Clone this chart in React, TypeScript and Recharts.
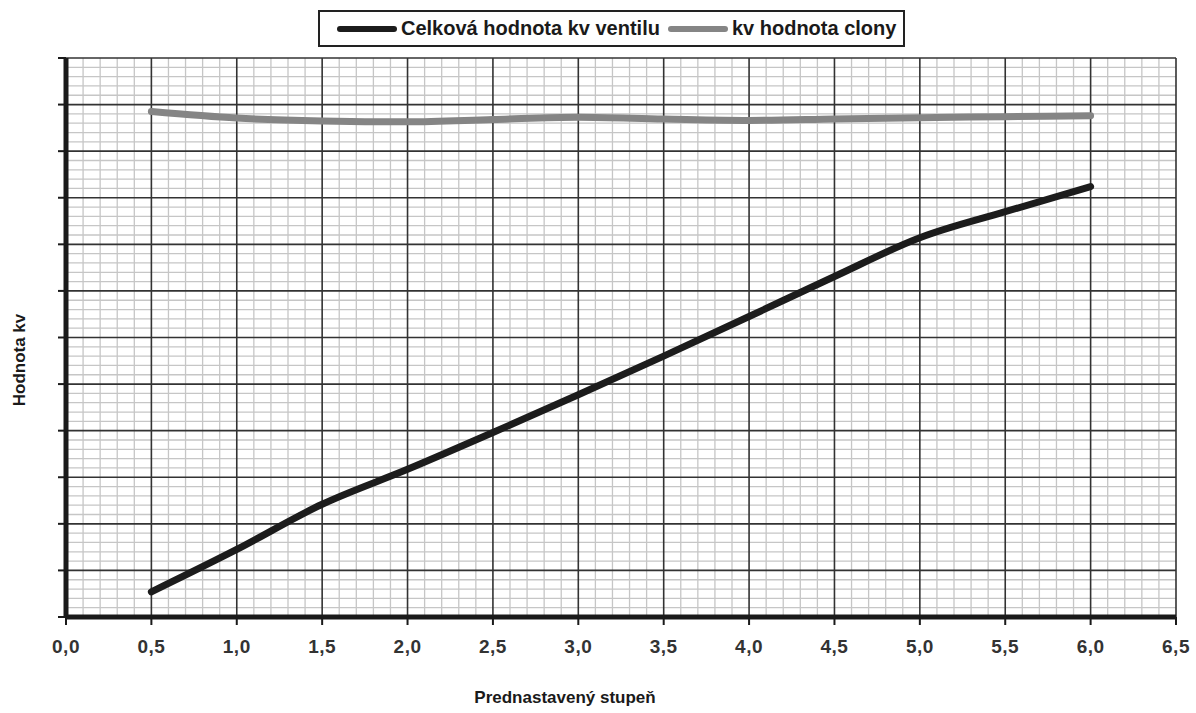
import React from "react"
import { LineChart, Line, XAxis, YAxis, ReferenceLine } from "recharts"

// prednastavený stupeň (x) and the two kv curves
const stupne = [0.5, 1.0, 1.5, 2.0, 2.5, 3.0, 3.5, 4.0, 4.5, 5.0, 5.5, 6.0]
const celkovaKv = [0.54, 1.45, 2.42, 3.17, 3.96, 4.77, 5.6, 6.45, 7.31, 8.14, 8.7, 9.24]
const clonaKv = [10.85, 10.71, 10.65, 10.63, 10.68, 10.73, 10.69, 10.66, 10.69, 10.72, 10.74, 10.76]

const xTicks = [0, 0.5, 1, 1.5, 2, 2.5, 3, 3.5, 4, 4.5, 5, 5.5, 6, 6.5]
const yTicks = [0, 1, 2, 3, 4, 5, 6, 7, 8, 9, 10, 11, 12]

// fine graph-paper lines: 0.1 steps on x, 0.2 steps on y (majors left out)
const xMinor = Array.from({ length: 66 }, (_, i) => i / 10).filter(
  (v) => Math.round(v * 10) % 5 !== 0
)
const yMinor = Array.from({ length: 61 }, (_, i) => Math.round(i * 2) / 10).filter(
  (v) => Math.round(v * 10) % 10 !== 0
)

const data = stupne.map((s, i) => ({ stupen: s, celkova: celkovaKv[i], clona: clonaKv[i] }))

const fmt = (v: number) => v.toFixed(1).replace(".", ",")

const font = "'Liberation Sans', Arial, sans-serif"
const major = "#333"
const minor = "#c6c6c6"

function LegendBox() {
  const item = (color: string, text: string) => (
    <div style={{ display: "flex", alignItems: "center" }}>
      <div style={{ width: 60, height: 6, borderRadius: 3, background: color, marginRight: 4 }} />
      <span>{text}</span>
    </div>
  )
  return (
    <div
      style={{
        position: "absolute",
        left: 318,
        top: 10,
        width: 566,
        height: 33,
        border: "2px solid #222",
        display: "flex",
        alignItems: "center",
        paddingLeft: 17,
        boxSizing: "content-box",
        gap: 8,
        fontFamily: font,
        fontWeight: 700,
        fontSize: 20,
        color: "#1a1a1a",
        whiteSpace: "nowrap",
        overflow: "hidden",
      }}
    >
      {item("#1c1c1c", "Celková hodnota kv ventilu")}
      {item("#858585", "kv hodnota clony")}
    </div>
  )
}

export default function App() {
  return (
    <div style={{ position: "relative", width: 1196, height: 713, background: "#fff" }}>
      <style>{`body{margin:0}`}</style>
      <LineChart
        width={1196}
        height={713}
        data={data}
        margin={{ top: 58, right: 20, bottom: 0, left: 0 }}
      >
        {xMinor.map((v) => (
          <ReferenceLine key={"xm" + v} x={v} stroke={minor} strokeWidth={1.3} />
        ))}
        {yMinor.map((v) => (
          <ReferenceLine key={"ym" + v} y={v} stroke={minor} strokeWidth={1.3} />
        ))}
        {xTicks.map((v) => (
          <ReferenceLine key={"xM" + v} x={v} stroke={major} strokeWidth={1.6} />
        ))}
        {yTicks.map((v) => (
          <ReferenceLine key={"yM" + v} y={v} stroke={major} strokeWidth={1.6} />
        ))}
        <XAxis
          type="number"
          dataKey="stupen"
          domain={[0, 6.5]}
          ticks={xTicks}
          interval={0}
          tickFormatter={fmt}
          height={96}
          axisLine={{ stroke: "#1a1a1a", strokeWidth: 5 }}
          tickLine={{ stroke: "#1a1a1a", strokeWidth: 2 }}
          tickSize={8}
          tickMargin={15}
          tick={{ fill: "#333", fontSize: 19, fontWeight: 700, fontFamily: font, letterSpacing: 0.5 }}
          label={{
            value: "Prednastavený stupeň",
            content: () => (
              <text
                x={565}
                y={703}
                textAnchor="middle"
                fontFamily={font}
                fontWeight={700}
                fontSize={17}
                fill="#1a1a1a"
              >
                Prednastavený stupeň
              </text>
            ),
          }}
        />
        <YAxis
          type="number"
          domain={[0, 12]}
          ticks={yTicks}
          interval={0}
          width={66}
          tickFormatter={() => ""}
          axisLine={{ stroke: "#1a1a1a", strokeWidth: 5 }}
          tickLine={{ stroke: "#1a1a1a", strokeWidth: 2 }}
          tickSize={8}
          label={{
            value: "Hodnota kv",
            content: () => (
              <text
                transform="translate(25,360) rotate(-90)"
                textAnchor="middle"
                fontFamily={font}
                fontWeight={700}
                fontSize={17}
                fill="#1a1a1a"
              >
                Hodnota kv
              </text>
            ),
          }}
        />
        <Line
          type="monotone"
          dataKey="clona"
          stroke="#858585"
          strokeWidth={7}
          strokeLinecap="round"
          dot={false}
          activeDot={false}
          isAnimationActive={false}
        />
        <Line
          type="monotone"
          dataKey="celkova"
          stroke="#1c1c1c"
          strokeWidth={7}
          strokeLinecap="round"
          dot={false}
          activeDot={false}
          isAnimationActive={false}
        />
      </LineChart>
      <LegendBox />
    </div>
  )
}
